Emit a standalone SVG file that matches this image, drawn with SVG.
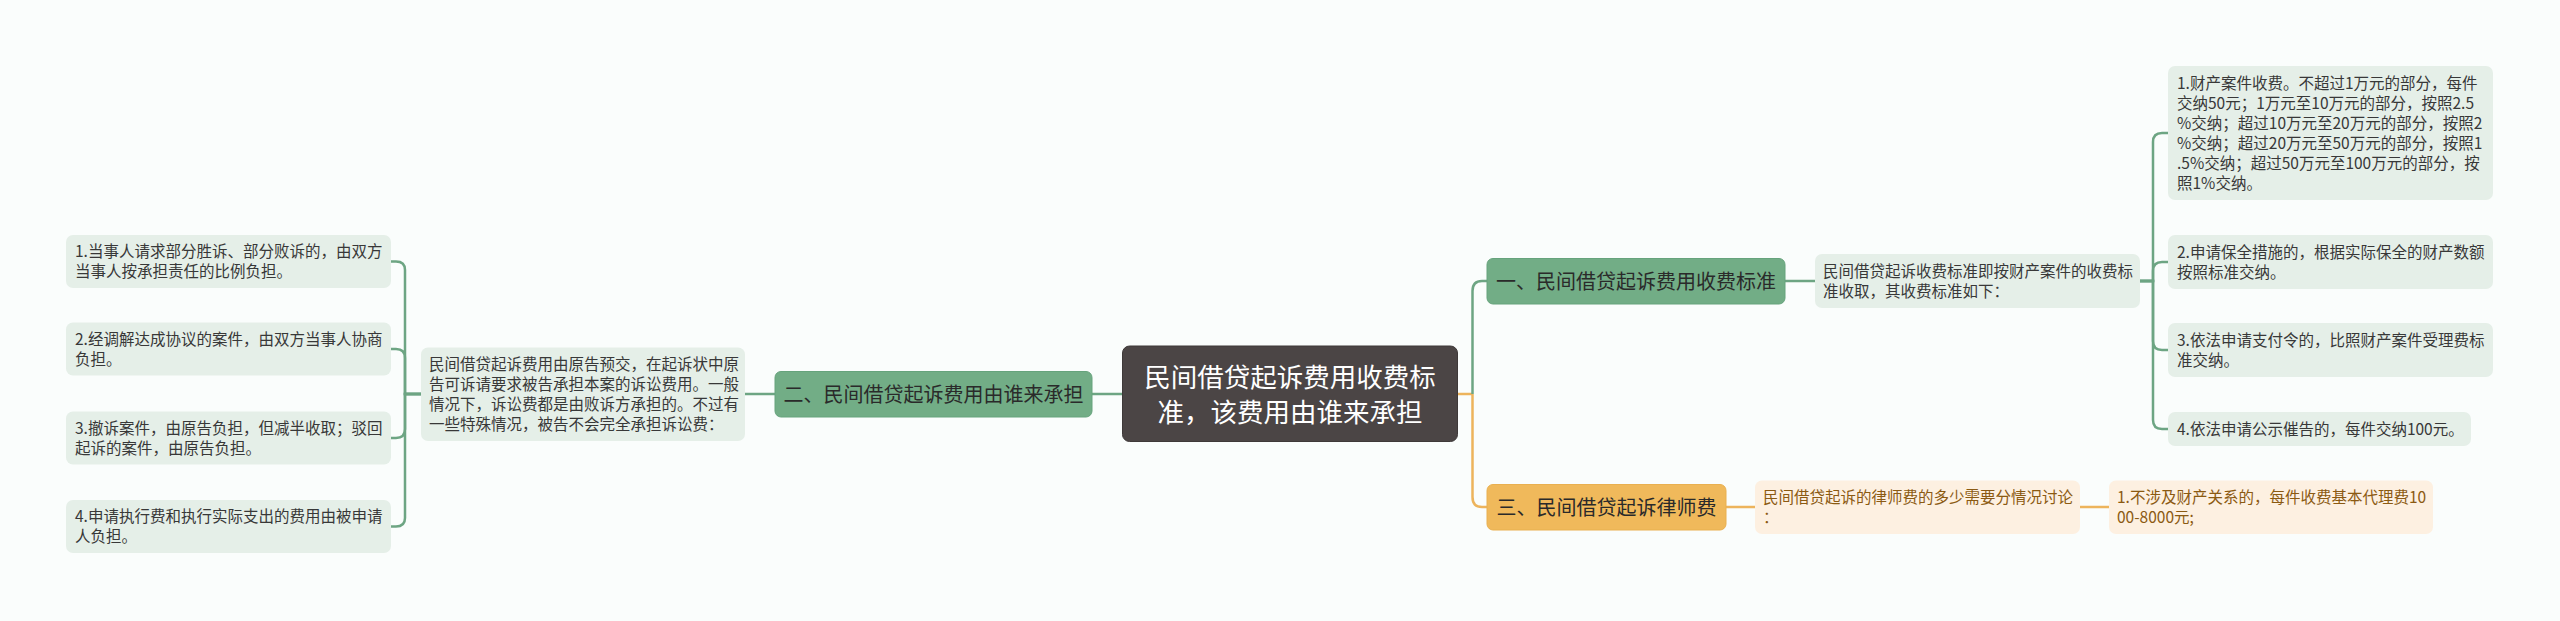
<svg xmlns="http://www.w3.org/2000/svg" width="2560" height="621" viewBox="0 0 2560 621">
<style>
text{font-family:"Noto Sans CJK SC","Microsoft YaHei",sans-serif;}
.bg{fill:#fafdfc;}
.root{fill:#4b4545;stroke:#3e3939;stroke-width:1;}
.rootT{fill:#ffffff;font-size:26.5px;text-anchor:middle;}
.gb{fill:#72ad86;stroke:#66a37c;stroke-width:1;}
.ob{fill:#f0b95b;stroke:#e9b050;stroke-width:1;}
.bT{fill:#2a2a2a;font-size:20px;text-anchor:middle;}
.gl{fill:#e5efe8;}
.ol{fill:#fdf0e1;}
.gT{fill:#383838;font-size:15.5px;}
.oT{fill:#8b5a12;font-size:15.5px;}
.cg{fill:none;stroke:#6da583;stroke-width:2.5;}
.co{fill:none;stroke:#edb45c;stroke-width:2.5;}
</style>
<rect class="bg" x="0" y="0" width="2560" height="621"/>
<g id="connectors">
  <path class="cg" d="M1122 394 H1092"/>
  <path class="cg" d="M775 394 H745"/>
  <path class="cg" d="M421 394 H405 V270 Q405 261.5 396 261.5 H391"/>
  <path class="cg" d="M421 394 H405 V358 Q405 349 396 349 H391"/>
  <path class="cg" d="M421 394 H405 V429 Q405 438 396 438 H391"/>
  <path class="cg" d="M421 394 H405 V518 Q405 526.5 396 526.5 H391"/>
  <path class="co" d="M1458 394 H1472.5"/>
  <path class="cg" d="M1472.5 394 V291 Q1472.5 281 1482 281 H1487"/>
  <path class="co" d="M1472.5 394 V497 Q1472.5 507 1482 507 H1487"/>
  <path class="cg" d="M1785 281 H1815"/>
  <path class="cg" d="M2140 281 H2153 V142 Q2153 133 2162 133 H2168"/>
  <path class="cg" d="M2140 281 H2153 V271 Q2153 262 2162 262 H2168"/>
  <path class="cg" d="M2140 281 H2153 V341 Q2153 350 2162 350 H2168"/>
  <path class="cg" d="M2140 281 H2153 V420 Q2153 429 2162 429 H2168"/>
  <path class="co" d="M1726 507 H1755"/>
  <path class="co" d="M2080 507 H2109"/>
</g>
<g id="root">
  <rect class="root" x="1122.5" y="346" width="335" height="95.5" rx="7"/>
  <text class="rootT" x="1290" y="386.5">民间借贷起诉费用收费标</text>
  <text class="rootT" x="1290" y="421.5">准，该费用由谁来承担</text>
</g>
<g id="branch2">
  <rect class="gb" x="775" y="371.5" width="317" height="45.5" rx="6"/>
  <text class="bT" x="933.5" y="401.5">二、民间借贷起诉费用由谁来承担</text>
</g>
<g id="branch2-text">
  <rect class="gl" x="421" y="347.5" width="324" height="93.5" rx="7"/>
  <text class="gT" x="429" y="370">民间借贷起诉费用由原告预交，在起诉状中原</text>
  <text class="gT" x="429" y="390">告可诉请要求被告承担本案的诉讼费用。一般</text>
  <text class="gT" x="429" y="410">情况下，诉讼费都是由败诉方承担的。不过有</text>
  <text class="gT" x="429" y="430">一些特殊情况，被告不会完全承担诉讼费：</text>
</g>
<g id="left1">
  <rect class="gl" x="66" y="235" width="325" height="53" rx="7"/>
  <text class="gT" x="75" y="257">1.当事人请求部分胜诉、部分败诉的，由双方</text>
  <text class="gT" x="75" y="277">当事人按承担责任的比例负担。</text>
</g>
<g id="left2">
  <rect class="gl" x="66" y="322.5" width="325" height="53" rx="7"/>
  <text class="gT" x="75" y="344.5">2.经调解达成协议的案件，由双方当事人协商</text>
  <text class="gT" x="75" y="364.5">负担。</text>
</g>
<g id="left3">
  <rect class="gl" x="66" y="411.5" width="325" height="53" rx="7"/>
  <text class="gT" x="75" y="433.5">3.撤诉案件，由原告负担，但减半收取；驳回</text>
  <text class="gT" x="75" y="453.5">起诉的案件，由原告负担。</text>
</g>
<g id="left4">
  <rect class="gl" x="66" y="500" width="325" height="53" rx="7"/>
  <text class="gT" x="75" y="522">4.申请执行费和执行实际支出的费用由被申请</text>
  <text class="gT" x="75" y="542">人负担。</text>
</g>
<g id="branch1">
  <rect class="gb" x="1487" y="258.5" width="298" height="45.5" rx="6"/>
  <text class="bT" x="1636" y="288.5">一、民间借贷起诉费用收费标准</text>
</g>
<g id="branch1-text">
  <rect class="gl" x="1815" y="254" width="325" height="54" rx="7"/>
  <text class="gT" x="1823" y="276.5">民间借贷起诉收费标准即按财产案件的收费标</text>
  <text class="gT" x="1823" y="296.5">准收取，其收费标准如下：</text>
</g>
<g id="right1">
  <rect class="gl" x="2168" y="66" width="325" height="134" rx="7"/>
  <text class="gT" x="2177" y="88.5">1.财产案件收费。不超过1万元的部分，每件</text>
  <text class="gT" x="2177" y="108.5">交纳50元；1万元至10万元的部分，按照2.5</text>
  <text class="gT" x="2177" y="128.5">%交纳；超过10万元至20万元的部分，按照2</text>
  <text class="gT" x="2177" y="148.5">%交纳；超过20万元至50万元的部分，按照1</text>
  <text class="gT" x="2177" y="168.5">.5%交纳；超过50万元至100万元的部分，按</text>
  <text class="gT" x="2177" y="188.5">照1%交纳。</text>
</g>
<g id="right2">
  <rect class="gl" x="2168" y="235" width="325" height="54" rx="7"/>
  <text class="gT" x="2177" y="257.5">2.申请保全措施的，根据实际保全的财产数额</text>
  <text class="gT" x="2177" y="277.5">按照标准交纳。</text>
</g>
<g id="right3">
  <rect class="gl" x="2168" y="323" width="325" height="54" rx="7"/>
  <text class="gT" x="2177" y="345.5">3.依法申请支付令的，比照财产案件受理费标</text>
  <text class="gT" x="2177" y="365.5">准交纳。</text>
</g>
<g id="right4">
  <rect class="gl" x="2168" y="412" width="303" height="34" rx="7"/>
  <text class="gT" x="2177" y="434.5">4.依法申请公示催告的，每件交纳100元。</text>
</g>
<g id="branch3">
  <rect class="ob" x="1487" y="484.5" width="239" height="45.5" rx="6"/>
  <text class="bT" x="1606.5" y="514.5">三、民间借贷起诉律师费</text>
</g>
<g id="branch3-text">
  <rect class="ol" x="1755" y="480.5" width="325" height="53.5" rx="7"/>
  <text class="oT" x="1763" y="503">民间借贷起诉的律师费的多少需要分情况讨论</text>
  <text class="oT" x="1763" y="523">：</text>
</g>
<g id="branch3-item1">
  <rect class="ol" x="2109" y="480.5" width="324" height="53.5" rx="7"/>
  <text class="oT" x="2117" y="503">1.不涉及财产关系的，每件收费基本代理费10</text>
  <text class="oT" x="2117" y="523">00-8000元;</text>
</g>
</svg>
